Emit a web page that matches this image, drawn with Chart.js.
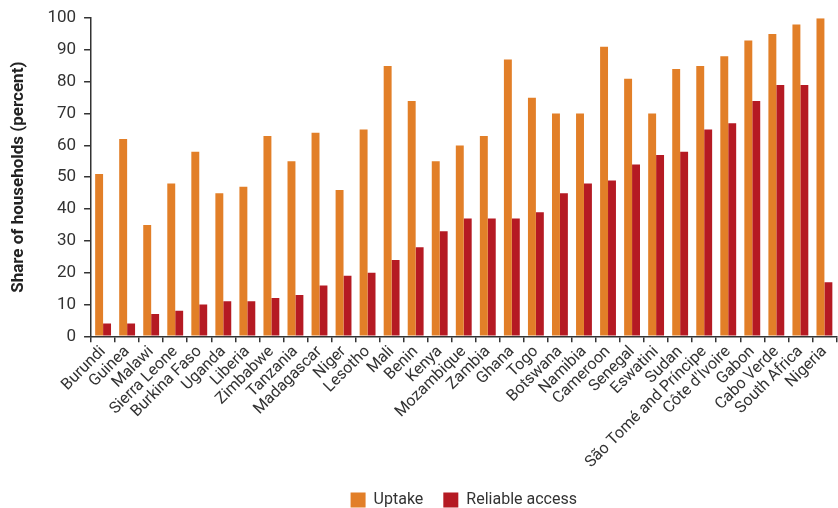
<!DOCTYPE html>
<html>
<head>
<meta charset="utf-8">
<script src="https://cdn.jsdelivr.net/npm/chart.js@4"></script>
<style>
  html, body { margin: 0; padding: 0; background: #fff; }
  #wrap { width: 838px; height: 508px; }
</style>
</head>
<body>
<div id="wrap"><canvas id="grafico"></canvas></div>
<script>
// paises (eixo x)
const countries = ['Burundi', 'Guinea', 'Malawi', 'Sierra Leone', 'Burkina Faso', 'Uganda', 'Liberia',
  'Zimbabwe', 'Tanzania', 'Madagascar', 'Niger', 'Lesotho', 'Mali', 'Benin', 'Kenya', 'Mozambique',
  'Zambia', 'Ghana', 'Togo', 'Botswana', 'Namibia', 'Cameroon', 'Senegal', 'Eswatini', 'Sudan',
  'São Tomé and Príncipe', "Côte d'Ivoire", 'Gabon', 'Cabo Verde', 'South Africa', 'Nigeria'];

// valores
const uptake = [51, 62, 35, 48, 58, 45, 47, 63, 55, 64, 46, 65, 85, 74, 55, 60,
  63, 87, 75, 70, 70, 91, 81, 70, 84, 85, 88, 93, 95, 98, 100];
const reliable = [4, 4, 7, 8, 10, 11, 11, 12, 13, 16, 19, 20, 24, 28, 33, 37,
  37, 37, 39, 45, 48, 49, 54, 57, 58, 65, 67, 74, 79, 79, 17];

const yTicks = [0, 10, 20, 30, 40, 50, 60, 70, 80, 90, 100];

const fonte = 'Roboto, "Noto Sans", sans-serif';
const corTexto = '#333333';

new Chart(document.getElementById('grafico'), {
  type: 'bar',
  data: {
    labels: countries,
    datasets: [
      { label: 'Uptake', data: uptake, backgroundColor: '#e27f28' },
      { label: 'Reliable access', data: reliable, backgroundColor: '#b51a23' }
    ]
  },
  options: {
    responsive: true,
    maintainAspectRatio: false,
    animation: false,
    layout: { padding: { top: 4, right: 0, left: 9, bottom: -10 } },
    datasets: { bar: { categoryPercentage: 0.66, barPercentage: 1.0 } },
    plugins: {
      tooltip: { enabled: false },
      legend: {
        position: 'bottom',
        fullSize: false,
        labels: {
          color: corTexto,
          font: { family: fonte, size: 16 },
          boxWidth: 15,
          boxHeight: 15,
          padding: 20
        }
      }
    },
    scales: {
      x: {
        grid: { drawOnChartArea: false, drawTicks: true, tickLength: 6, color: '#333', lineWidth: 1.5 },
        border: { color: '#333', width: 1.5 },
        ticks: {
          color: corTexto,
          font: { family: fonte, size: 16 },
          maxRotation: 45,
          minRotation: 45,
          autoSkip: false,
          padding: 0
        }
      },
      y: {
        min: 0,
        max: 100,
        afterBuildTicks: (scale) => { scale.ticks = yTicks.map(v => ({ value: v })); },
        grid: { drawOnChartArea: false, drawTicks: true, tickLength: 7, color: '#333', lineWidth: 1.5 },
        border: { color: '#333', width: 1.5 },
        title: {
          display: true,
          text: 'Share of households (percent)',
          color: '#222',
          font: { family: fonte, size: 17, weight: 'bold' },
          padding: { top: 0, bottom: 10 }
        },
        ticks: {
          color: corTexto,
          font: { family: fonte, size: 17 },
          padding: 8
        }
      }
    }
  }
});
</script>
</body>
</html>
